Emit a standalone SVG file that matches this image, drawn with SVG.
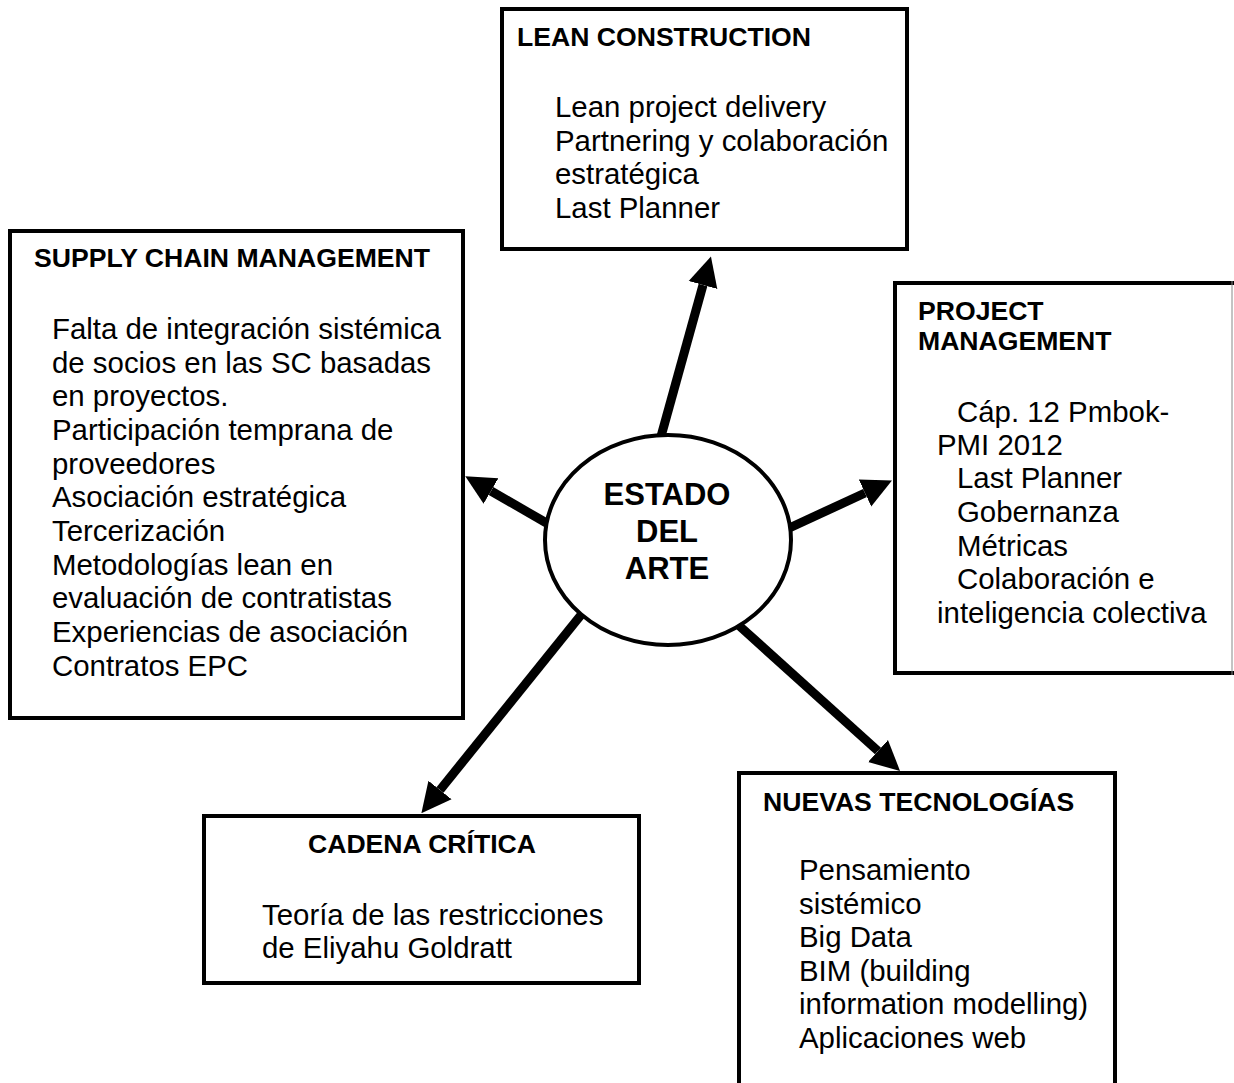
<svg xmlns="http://www.w3.org/2000/svg" width="1234" height="1083" viewBox="0 0 1234 1083">
<defs>
<style>
.box{fill:#fff;stroke:#000;stroke-width:4}
.ttl{font-family:"Liberation Sans",Arial,sans-serif;font-weight:bold;font-size:26.6px;fill:#000}
.txt{font-family:"Liberation Sans",Arial,sans-serif;font-size:29.4px;fill:#000}
.ctr{font-family:"Liberation Sans",Arial,sans-serif;font-weight:bold;font-size:31px;fill:#000;text-anchor:middle}
.arr{stroke:#000;stroke-width:9;fill:none;marker-end:url(#head)}
</style>
<marker id="head" viewBox="0 0 10 10" refX="0" refY="5" markerWidth="3.3" markerHeight="3.6" markerUnits="strokeWidth" orient="auto">
<path d="M0,0 L10,5 L0,10 z" fill="#000"/>
</marker>
</defs>
<rect width="1234" height="1083" fill="#fff"/>
<g id="lean">
<rect class="box" x="502" y="9" width="405" height="240"/>
<text class="ttl" x="517" y="46">LEAN CONSTRUCTION</text>
<text class="txt" x="555" y="117">Lean project delivery</text>
<text class="txt" x="555" y="151">Partnering y colaboración</text>
<text class="txt" x="555" y="184">estratégica</text>
<text class="txt" x="555" y="218">Last Planner</text>
</g>
<g id="scm">
<rect class="box" x="10" y="231" width="453" height="487"/>
<text class="ttl" x="34" y="267">SUPPLY CHAIN MANAGEMENT</text>
<text class="txt" x="52" y="339">Falta de integración sistémica</text>
<text class="txt" x="52" y="373">de socios en las SC basadas</text>
<text class="txt" x="52" y="406">en proyectos.</text>
<text class="txt" x="52" y="440">Participación temprana de</text>
<text class="txt" x="52" y="474">proveedores</text>
<text class="txt" x="52" y="507">Asociación estratégica</text>
<text class="txt" x="52" y="541">Tercerización</text>
<text class="txt" x="52" y="575">Metodologías lean en</text>
<text class="txt" x="52" y="608">evaluación de contratistas</text>
<text class="txt" x="52" y="642">Experiencias de asociación</text>
<text class="txt" x="52" y="676">Contratos EPC</text>
</g>
<g id="pm">
<rect class="box" x="895" y="283" width="345" height="390"/>
<line x1="1232" y1="281" x2="1232" y2="675" stroke="#888" stroke-width="1"/>
<text class="ttl" x="918" y="320">PROJECT</text>
<text class="ttl" x="918" y="350">MANAGEMENT</text>
<text class="txt" x="957" y="422">Cáp. 12 Pmbok-</text>
<text class="txt" x="937" y="455">PMI 2012</text>
<text class="txt" x="957" y="488">Last Planner</text>
<text class="txt" x="957" y="522">Gobernanza</text>
<text class="txt" x="957" y="556">Métricas</text>
<text class="txt" x="957" y="589">Colaboración e</text>
<text class="txt" x="937" y="623">inteligencia colectiva</text>
</g>
<g id="cadena">
<rect class="box" x="204" y="816" width="435" height="167"/>
<text class="ttl" x="308" y="853">CADENA CRÍTICA</text>
<text class="txt" x="262" y="925">Teoría de las restricciones</text>
<text class="txt" x="262" y="958">de Eliyahu Goldratt</text>
</g>
<g id="nuevas">
<rect class="box" x="739" y="773" width="376" height="330"/>
<text class="ttl" x="763" y="811">NUEVAS TECNOLOGÍAS</text>
<text class="txt" x="799" y="880">Pensamiento</text>
<text class="txt" x="799" y="914">sistémico</text>
<text class="txt" x="799" y="947">Big Data</text>
<text class="txt" x="799" y="981">BIM (building</text>
<text class="txt" x="799" y="1014">information modelling)</text>
<text class="txt" x="799" y="1048">Aplicaciones web</text>
</g>
<g id="connectors">
<line class="arr" x1="660" y1="440" x2="703" y2="285"/>
<line class="arr" x1="550" y1="525" x2="491" y2="491"/>
<line class="arr" x1="785" y1="530" x2="865" y2="493"/>
<line class="arr" x1="585" y1="610" x2="440" y2="790"/>
<line class="arr" x1="735" y1="622" x2="878" y2="751"/>
</g>
<g id="estado">
<ellipse cx="668" cy="540" rx="123" ry="105" fill="#fff" stroke="#000" stroke-width="4"/>
<text class="ctr" x="667" y="505">ESTADO</text>
<text class="ctr" x="667" y="542">DEL</text>
<text class="ctr" x="667" y="579">ARTE</text>
</g>
</svg>
